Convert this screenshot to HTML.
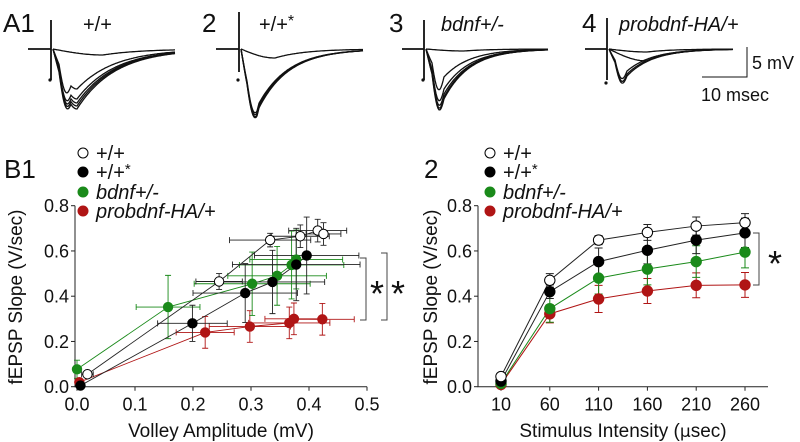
<!DOCTYPE html>
<html><head><meta charset="utf-8"><style>
html,body{margin:0;padding:0;background:#fff}
svg{display:block;font-family:"Liberation Sans",Arial,sans-serif}
</style></head><body>
<svg id="fig" width="800" height="442" viewBox="0 0 800 442">
<g id="traces" fill="none" stroke="#111" stroke-width="1.3"></g>
<g font-size="26" fill="#111">
<text x="3" y="32">A1</text>
<text x="202" y="32">2</text>
<text x="389" y="32">3</text>
<text x="582" y="32">4</text>
<text x="4" y="178">B1</text>
<text x="424" y="178">2</text>
</g>
<g font-size="20" fill="#111">
<text x="83" y="31">+/+</text>
<text x="259" y="31">+/+<tspan font-size="16" dy="-5">*</tspan></text>
<text x="441" y="31" font-style="italic">bdnf+/-</text>
<text x="619" y="31" font-style="italic">probdnf-HA/+</text>
</g>
<g>
<path d="M702 77 H747 V47" fill="none" stroke="#111" stroke-width="1"/>
<text x="752" y="69" font-size="18" fill="#111">5 mV</text>
<text x="701" y="101" font-size="18" fill="#111">10 msec</text>
</g>
<g id="chart1"></g>
<g id="chart2"></g>
</svg>
<script>
// ---- Chart B1 data ----
const b1Series = ['+/+','+/+*','bdnf+/-','probdnf-HA/+'];
const b1WtX = [0.018,0.245,0.333,0.385,0.415,0.425];
const b1WtY = [0.055,0.465,0.648,0.665,0.69,0.675];
const b1WtXErr = [0.01,0.04,0.07,0.05,0.05,0.03];
const b1WtYErr = [0.01,0.035,0.03,0.05,0.05,0.05];
const b1StarX = [0.006,0.199,0.29,0.337,0.378,0.396];
const b1StarY = [0.005,0.28,0.414,0.463,0.54,0.58];
const b1StarXErr = [0.005,0.06,0.09,0.09,0.11,0.09];
const b1StarYErr = [0.005,0.08,0.13,0.14,0.16,0.17];
const b1BdnfX = [0.0,0.157,0.302,0.345,0.37,0.378];
const b1BdnfY = [0.077,0.352,0.455,0.49,0.538,0.562];
const b1BdnfXErr = [0.005,0.055,0.1,0.085,0.09,0.08];
const b1BdnfYErr = [0.04,0.14,0.14,0.13,0.15,0.13];
const b1ProX = [0.004,0.221,0.298,0.366,0.374,0.423];
const b1ProY = [0.02,0.24,0.266,0.282,0.3,0.298];
const b1ProXErr = [0.004,0.05,0.07,0.07,0.05,0.055];
const b1ProYErr = [0.01,0.07,0.07,0.07,0.07,0.07];
const b1XTicks = ['0.0','0.1','0.2','0.3','0.4','0.5'];
const yTicks = ['0.0','0.2','0.4','0.6','0.8'];
// ---- Chart B2 data ----
const b2Categories = [10,60,110,160,210,260];
const b2Wt = [0.045,0.47,0.648,0.682,0.71,0.725];
const b2WtErr = [0.01,0.03,0.02,0.035,0.04,0.04];
const b2Star = [0.025,0.42,0.553,0.603,0.648,0.68];
const b2StarErr = [0.01,0.03,0.06,0.06,0.06,0.065];
const b2Bdnf = [0.015,0.345,0.48,0.52,0.553,0.595];
const b2BdnfErr = [0.01,0.06,0.07,0.07,0.07,0.07];
const b2Pro = [0.01,0.322,0.388,0.423,0.448,0.45];
const b2ProErr = [0.01,0.04,0.06,0.055,0.055,0.055];
// ---- Trace depths (relative amplitude) ----
const traceDepths1 = [6,40,50,54,57,60];
const traceDepths2 = [9,58,60,62,63];
const traceDepths3 = [2,28,40,45,48,50];
const traceDepths4 = [3,12,22,25,27];

const NS='http://www.w3.org/2000/svg';
function el(tag,attrs,parent){const e=document.createElementNS(NS,tag);for(const k in attrs)e.setAttribute(k,attrs[k]);parent.appendChild(e);return e;}
const colors=['#fff','#000','#1a8a1a','#b01515'];

const tr=document.getElementById('traces');
function panel(x0,xs,xe,base,top,bot,depths,tmin,tau,volley,dotY){
  el('path',{d:`M${x0} ${base} H${xs} M${xs} ${top} V${bot}`,'stroke-width':1.8},tr);
  const dot=el('circle',{cx:xs-1,cy:dotY,r:1.6,fill:'#111',stroke:'none'},tr);
  
  
  depths.forEach((d,i)=>{
    let pts=[];
    const xm=xs+tmin*(d<15?2:1);
    for(let x=xs+2;x<=xe;x+=1){
      let y;
      if(x<=xm){const t=(x-xs-2)/(xm-xs-2);y=base+d*Math.sin(t*Math.PI/2);}
      else y=base+d*Math.exp(-(x-xm)/tau);
      if(volley&&d>15&&x>xs+8&&x<xs+20){y+=volley*Math.sin((x-xs-8)/12*Math.PI);}
      pts.push(x+' '+y.toFixed(1));
    }
    const p=el('path',{d:'M'+pts.join(' L')},tr);
    
    
  });
}
panel(28,51,175,49,20,80,traceDepths1,26,38,14,80);
panel(216,239,363,49,12,72,traceDepths2,18,30,8,80);
panel(402,424,548,49,20,80,traceDepths3,20,26,16,80);
panel(585,607,733,49,18,80,traceDepths4,20,26,10,83);

function axes(g,ax0,ax1,yTop,yBot,xLabels,xPos,title,ytitleX){
  el('path',{d:`M${ax0} ${yTop} V${yBot} H${ax1}`,fill:'none',stroke:'#222','stroke-width':1},g);
  yTicks.forEach((t,i)=>{
    const y=yBot-i*(yBot-yTop)/4;
    el('line',{x1:ax0-4,x2:ax0,y1:y,y2:y,stroke:'#222'},g);
    const tx=el('text',{x:ax0-6,y:y+6.5,'font-size':18,'text-anchor':'end',fill:'#111'},g);tx.textContent=t;
    
    
  });
  xLabels.forEach((t,i)=>{
    const x=xPos(i);
    el('line',{x1:x,x2:x,y1:yBot,y2:yBot+4,stroke:'#222'},g);
    const tx=el('text',{x:x,y:yBot+24,'font-size':18,'text-anchor':'middle',fill:'#111'},g);tx.textContent=t;
    
    
  });
  const xt=el('text',{x:(ax0+ax1)/2,y:437,'font-size':19,'text-anchor':'middle',fill:'#111'},g);xt.innerHTML=title;
  
  
  const yt=el('text',{x:0,y:0,'font-size':19,'text-anchor':'middle',fill:'#111',transform:`translate(${ytitleX},297) rotate(-90)`},g);yt.textContent='fEPSP Slope (V/sec)';
  
  
}
function legend(g,x,ys){
  b1Series.forEach((s,i)=>{
    const y=ys[i];
    el('circle',{cx:x,cy:y,r:5,fill:colors[i],stroke:i==0?'#000':colors[i],'stroke-width':1},g);
    const t=el('text',{x:x+13,y:y+7,'font-size':20,fill:'#111','font-style':i>=2?'italic':'normal'},g);
    if(i==1)t.innerHTML='+/+<tspan font-size="15" dy="-5">*</tspan>';else t.textContent=s;
    
    
  });
}
function bracket(g,x,y1,y2,sx,sy){
  el('path',{d:`M${x-6} ${y1} H${x} V${y2} H${x-6}`,fill:'none',stroke:'#444','stroke-width':1},g);
  const t=el('text',{x:sx,y:sy,'font-size':36,fill:'#111','text-anchor':'middle'},g);t.textContent='*';
  
  
}

const g1=document.getElementById('chart1');
const X1=v=>77+v*580, Y=v=>386.7-v*226.25;
axes(g1,75,367,205.7,386.7,b1XTicks,i=>X1(i*0.1),'Volley Amplitude (mV)',22);
const b1Data=[[b1WtX,b1WtY,b1WtXErr,b1WtYErr],[b1StarX,b1StarY,b1StarXErr,b1StarYErr],[b1BdnfX,b1BdnfY,b1BdnfXErr,b1BdnfYErr],[b1ProX,b1ProY,b1ProXErr,b1ProYErr]];
const lc=['#000','#000','#1a8a1a','#b01515'];
[3,2,1,0].forEach(s=>{
  const [xs,ys,xe,ye]=b1Data[s];
  const col=s<2?'#222':lc[s];
  xs.forEach((x,i)=>{
    const cx=X1(x),cy=Y(ys[i]);
    el('path',{d:`M${X1(x-xe[i])} ${cy} H${X1(x+xe[i])} M${X1(x-xe[i])} ${cy-3} v6 M${X1(x+xe[i])} ${cy-3} v6 M${cx} ${Y(ys[i]-ye[i])} V${Y(ys[i]+ye[i])} M${cx-3} ${Y(ys[i]-ye[i])} h6 M${cx-3} ${Y(ys[i]+ye[i])} h6`,stroke:col,'stroke-width':0.9,fill:'none'},g1);
  });
  el('polyline',{points:xs.map((x,i)=>X1(x)+','+Y(ys[i])).join(' '),fill:'none',stroke:col,'stroke-width':0.9},g1);
});
[3,2,1,0].forEach(s=>{
  const [xs,ys]=b1Data[s];
  xs.forEach((x,i)=>{
    const c=el('circle',{cx:X1(x),cy:Y(ys[i]),r:4.7,fill:colors[s],stroke:s==0?'#000':colors[s],'stroke-width':1},g1);
    
    
  });
});
legend(g1,83,[153,172,192,211]);
bracket(g1,366,258,320,377,306);
bracket(g1,387,253,320,398,306);

const g2=document.getElementById('chart2');
const X2=v=>501+(v-10)*(244/250);
axes(g2,478,768,205.7,386.7,b2Categories.map(String),i=>X2(b2Categories[i]),'Stimulus Intensity (<tspan font-family="DejaVu Sans" font-size="17">μ</tspan>sec)',437);
const b2Data=[[b2Wt,b2WtErr],[b2Star,b2StarErr],[b2Bdnf,b2BdnfErr],[b2Pro,b2ProErr]];
[3,2,1,0].forEach(s=>{
  const [vs,es]=b2Data[s];const col=s<2?'#222':lc[s];
  vs.forEach((v,i)=>{
    const cx=X2(b2Categories[i]);
    el('path',{d:`M${cx} ${Y(v-es[i])} V${Y(v+es[i])} M${cx-4} ${Y(v-es[i])} h8 M${cx-4} ${Y(v+es[i])} h8`,stroke:col,'stroke-width':1,fill:'none'},g2);
  });
  el('polyline',{points:vs.map((v,i)=>X2(b2Categories[i])+','+Y(v)).join(' '),fill:'none',stroke:col,'stroke-width':1},g2);
});
[3,2,1,0].forEach(s=>{
  b2Data[s][0].forEach((v,i)=>{
    const c=el('circle',{cx:X2(b2Categories[i]),cy:Y(v),r:5.2,fill:colors[s],stroke:s==0?'#000':colors[s],'stroke-width':1},g2);
    
    
  });
});
legend(g2,490,[153,172,192,211]);
bracket(g2,759,233,285,775,276);
</script>
</body></html>
